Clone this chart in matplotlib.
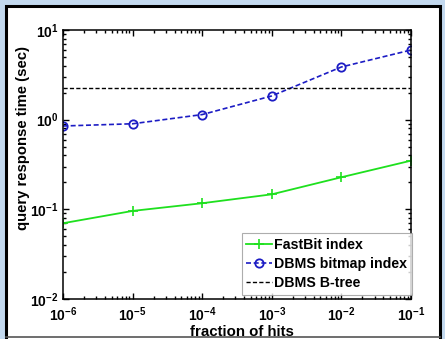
import matplotlib
matplotlib.use('Agg')
import matplotlib.pyplot as plt
import matplotlib.patches as patches
from matplotlib.lines import Line2D

# ----------------------- #
# Data
# ----------------------- #
hit_fraction = [1e-6, 1e-5, 1e-4, 1e-3, 1e-2, 1e-1]
fastbit_time = [0.070, 0.096, 0.117, 0.147, 0.228, 0.349]
bitmap_time = [0.85, 0.90, 1.14, 1.84, 3.87, 5.98]
btree_time = 2.24

series_labels = ['FastBit index', 'DBMS bitmap index', 'DBMS B-tree']

plt.rcParams['font.family'] = ['Liberation Sans', 'DejaVu Sans']
plt.rcParams['font.weight'] = 'bold'
plt.rcParams['mathtext.fontset'] = 'custom'
plt.rcParams['mathtext.rm'] = 'Liberation Sans:bold'
plt.rcParams['mathtext.bf'] = 'Liberation Sans:bold'
plt.rcParams['mathtext.default'] = 'bf'

W, H = 445, 339
fig = plt.figure(figsize=(W / 100, H / 100), dpi=100, facecolor='#c3d9ef')

# white panel with black frame (behind the axes)
fig.patches.append(patches.Rectangle((6 / W, -4 / H), 434 / W, (333 + 4) / H,
                                     transform=fig.transFigure, facecolor='white',
                                     edgecolor='black', linewidth=2.2, zorder=-10))
fig.add_artist(Line2D([6 / W, 440 / W], [2 / H, 2 / H], transform=fig.transFigure,
                      color='#555555', linewidth=1.2, zorder=-9))

ax = fig.add_axes([63 / W, (H - 299) / H, 348 / W, 269 / H])

green = '#1ee01e'
blue = '#1c1cc4'

ax.plot(hit_fraction, fastbit_time, color=green, linewidth=1.3, marker='+',
        markersize=7, markeredgewidth=1.2, label=series_labels[0])
ax.plot(hit_fraction, bitmap_time, color=blue, linewidth=1.2, linestyle=(0, (3, 1.6)),
        marker='o', markersize=6, markerfacecolor='none', markeredgewidth=1.3,
        label=series_labels[1])
ax.axhline(btree_time, color='black', linewidth=1.0, linestyle=(0, (3, 1.6)),
           label=series_labels[2])

ax.set_xscale('log')
ax.set_yscale('log')
ax.set_xlim(1e-6, 1e-1)
ax.set_ylim(1e-2, 1e1)

ax.tick_params(which='both', direction='in', top=True, right=True, labelsize=10, width=1)
ax.tick_params(axis='x', which='major', length=4, pad=4.5)
ax.tick_params(axis='y', which='major', length=4, pad=3)
ax.tick_params(which='minor', length=2)
for s in ax.spines.values():
    s.set_linewidth(1.1)

ax.set_ylabel('query response time (sec)', fontsize=10.7, fontweight='bold')
ax.yaxis.set_label_coords(-0.095, 0.60)
ax.set_xlabel('fraction of hits', fontsize=10.8, fontweight='bold', va='baseline')
ax.xaxis.set_label_coords(0.513, -0.1375)

leg = ax.legend(loc='lower right', bbox_to_anchor=(1.003, 0.015), borderaxespad=0,
                fontsize=10.2, frameon=True, fancybox=False, edgecolor='#999999',
                handlelength=1.8, handletextpad=0.15, labelspacing=0.35, borderpad=0.35)
leg.get_frame().set_linewidth(0.8)

plt.savefig('out.png', dpi=100, facecolor=fig.get_facecolor())
